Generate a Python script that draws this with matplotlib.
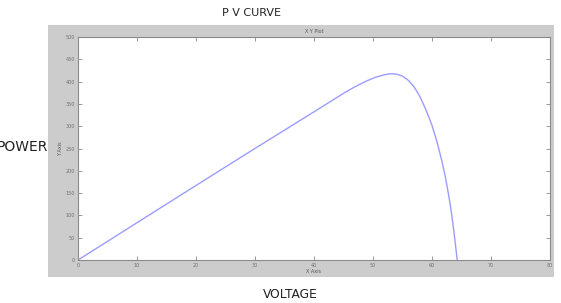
import matplotlib.pyplot as plt

# values
voltage = [0, 10, 20, 30, 40, 45, 47, 49, 50.5, 52, 53, 54, 55, 56, 57, 58,
           59, 60, 60.9, 61.7, 62.3, 62.9, 63.3, 63.7, 64.0, 64.3]
power = [0, 83.5, 167, 250, 332, 373.5, 388.7, 401.8, 410, 415.5, 417.6,
         416.9, 412.5, 403, 388, 366, 337, 303, 264, 222, 186, 142, 108, 68,
         35, 0]
x_ticks = [0, 10, 20, 30, 40, 50, 60, 70, 80]
y_ticks = [0, 50, 100, 150, 200, 250, 300, 350, 400, 450, 500]

fig = plt.figure(figsize=(5.61, 3.03), dpi=100)
fig.patch.set_facecolor('white')

# grey matlab-like panel behind the plot
bg = fig.add_axes([0.0856, 0.0858, 0.902, 0.832])
bg.set_facecolor('#cccccc')
bg.set_xticks([])
bg.set_yticks([])
for s in bg.spines.values():
    s.set_visible(False)

ax = fig.add_axes([0.139, 0.1419, 0.841, 0.736])
ax.plot(voltage, power, color='#9c9cff', lw=1.0)
ax.set_xlim(0, 80)
ax.set_ylim(0, 500)
ax.set_xticks(x_ticks)
ax.set_yticks(y_ticks)
ax.tick_params(direction='in', top=True, right=True, length=3, width=0.5,
               labelsize=3.5, colors='#707070', pad=2)
for s in ax.spines.values():
    s.set_color('#8a8a8a')
    s.set_linewidth(0.8)
ax.set_title('X Y Plot', fontsize=3.5, color='#555555', pad=3)
ax.set_xlabel('X Axis', fontsize=3.5, color='#555555', labelpad=1)
ax.set_ylabel('Y Axis', fontsize=3.5, color='#555555', labelpad=2)

fig.text(252 / 561, 1 - 13 / 303, 'P V CURVE', ha='center', va='center',
         fontsize=8, color='#222222')
fig.text(290 / 561, 1 - 295 / 303, 'VOLTAGE', ha='center', va='center',
         fontsize=8.8, color='#222222')
# the P is cut off by the left edge in the original
fig.text(48.5 / 561, 1 - 147 / 303, 'POWER', ha='right', va='center',
         fontsize=10, color='#222222')

fig.savefig('out.png', dpi=100)
